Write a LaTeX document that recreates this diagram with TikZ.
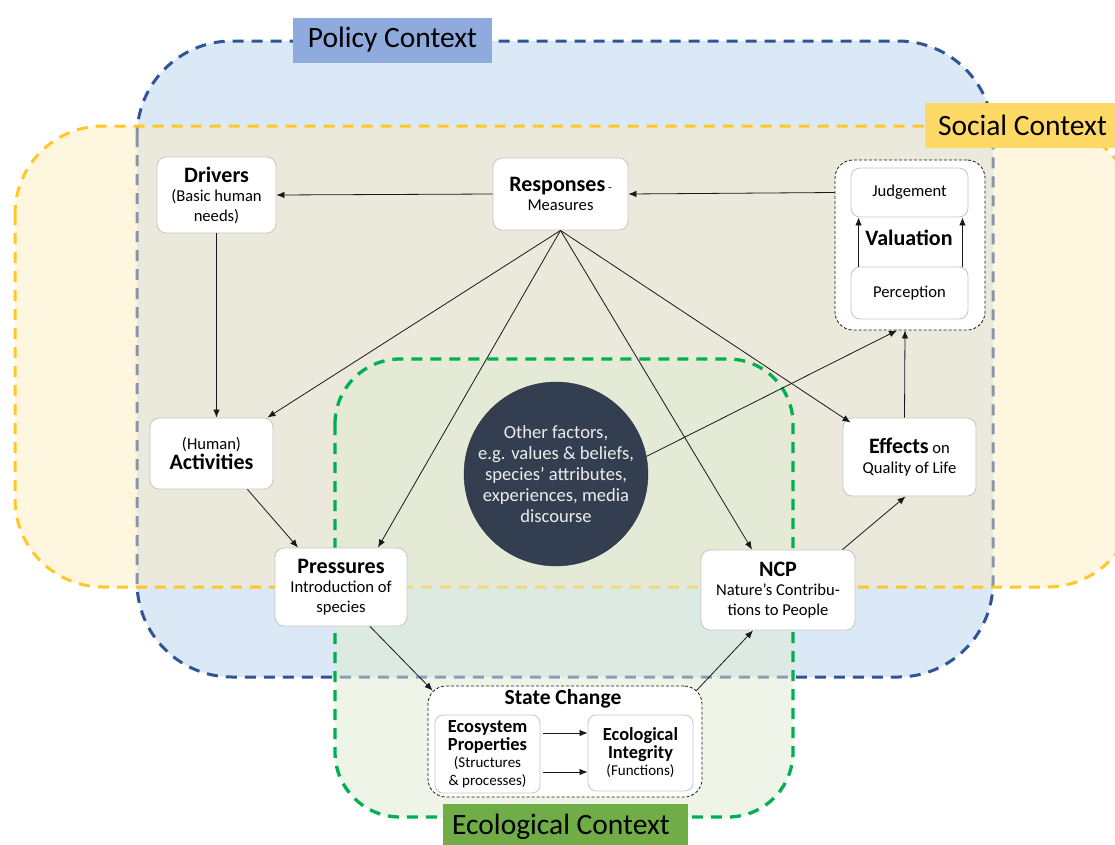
\documentclass[tikz,border=0pt]{standalone}
\usepackage{fontspec}
\setmainfont{Carlito}
\usetikzlibrary{arrows.meta,calc}
\definecolor{bluefill}{RGB}{219,232,245}
\definecolor{bluebord}{RGB}{47,85,151}
\definecolor{yelfill}{RGB}{255,236,185}
\definecolor{yelbord}{RGB}{255,200,40}
\definecolor{greenfill}{RGB}{223,235,211}
\definecolor{greenbord}{RGB}{0,176,80}
\definecolor{policylab}{RGB}{143,170,220}
\definecolor{sociallab}{RGB}{255,217,102}
\definecolor{ecolab}{RGB}{112,173,71}
\definecolor{boxgray}{RGB}{200,200,200}
\definecolor{circdark}{RGB}{51,63,80}
\definecolor{circtext}{RGB}{236,236,236}
\definecolor{linecol}{RGB}{25,25,25}
\newcommand\ttlfont{\fontsize{22}{24}\selectfont\bfseries}
\newcommand\subfont{\fontsize{16.6}{19.5}\selectfont}
\newcommand\smlttl{\fontsize{18.4}{20.5}\selectfont\bfseries}
\newcommand\smlsub{\fontsize{15}{17.5}\selectfont}
\tikzset{
  ctxbox/.style={line width=3pt, dash pattern=on 11pt off 8pt},
  lab/.style={inner sep=0pt, font=\fontsize{29.5}{31}\selectfont, text=black},
  wbox/.style={draw=boxgray, fill=white, rounded corners=9pt, line width=0.9pt, align=center, inner sep=1pt, font=\subfont},
  grp/.style={draw=linecol, fill=white, rounded corners=18pt, line width=0.8pt, dash pattern=on 3pt off 2pt},
  arr/.style={draw=linecol, line width=0.8pt, -{Latex[length=8pt,width=6.5pt]}},
}
\begin{document}
\begin{tikzpicture}[x=1pt,y=-1pt]
\clip (0,0) rectangle (1115,844);
\fill[white] (0,0) rectangle (1115,844);
% context areas
\draw[ctxbox, draw=bluebord, fill=bluefill, rounded corners=95pt] (137,41) rectangle (993,677);
\fill[yelfill, fill opacity=0.43, rounded corners=88pt] (15,126) rectangle (1135,587);
\draw[ctxbox, draw=yelbord, rounded corners=88pt] (15,126) rectangle (1135,587);
\fill[greenfill, fill opacity=0.5, rounded corners=65pt] (335,359) rectangle (793,817);
\draw[ctxbox, draw=greenbord, line width=3.3pt, rounded corners=65pt] (335,359) rectangle (793,817);
% context labels
\node[lab, fill=policylab, minimum width=199pt, minimum height=45pt] (policy) at (392.5,40) {Policy Context};
\node[lab, fill=sociallab, minimum width=195pt, minimum height=45pt] (social) at (1022.5,125.5) {Social Context};
\fill[ecolab] (443,804) rectangle (688,850);
\node[lab, anchor=base] (ecol) at (561,834) {Ecological Context};
% nodes
\node[wbox, minimum width=119pt, minimum height=76pt] (drv) at (216.5,195) {{\ttlfont Drivers}\\(Basic human\\needs)};
\node[wbox, minimum width=135pt, minimum height=72pt] (resp) at (560.5,194) {{\ttlfont Responses}\,{\fontsize{12}{14}\selectfont -}\\Measures};
\node[grp, minimum width=150pt, minimum height=170pt] (val) at (910,245) {};
\node[wbox, minimum width=117pt, minimum height=49pt] (judg) at (909.5,192.5) {Judgement};
\node[wbox, minimum width=117pt, minimum height=52pt] (perc) at (909.5,293) {Perception};
\node[font=\ttlfont, inner sep=1pt] (valt) at (909,238) {Valuation};
\node[wbox, minimum width=123pt, minimum height=71pt] (act) at (211.5,453.5) {(Human)\\{\ttlfont Activities}};
\node[wbox, minimum width=132pt, minimum height=78pt] (pres) at (341,587) {{\ttlfont Pressures}\\Introduction of\\species};
\node[circle, draw=circdark!80!black, fill=circdark, minimum size=164pt, inner sep=0pt, align=center, text=circtext, font=\fontsize{18.6}{21.2}\selectfont] (oth) at (556,474) {Other factors,\\e.g. values \& beliefs,\\species’ attributes,\\experiences, media\\discourse};
\node[wbox, minimum width=133pt, minimum height=78pt] (eff) at (909.5,457) {{\ttlfont Effects} on\\Quality of Life};
\node[wbox, minimum width=154pt, minimum height=80pt] (ncp) at (778,590) {{\ttlfont NCP}\\Nature’s Contribu-\\tions to People};
\node[grp, minimum width=274pt, minimum height=111pt] (sc) at (565,741.5) {};
\node[font=\fontsize{21.5}{23}\selectfont\bfseries, inner sep=1pt] (sct) at (563,699) {State Change};
\node[wbox, minimum width=105pt, minimum height=78pt, font=\smlsub, rounded corners=8pt] (eco) at (487.5,754) {{\smlttl Ecosystem}\\{\smlttl Properties}\\(Structures\\\& processes)};
\node[wbox, minimum width=105pt, minimum height=76pt, font=\smlsub, rounded corners=8pt] (integ) at (640.5,753) {{\smlttl Ecological}\\{\smlttl Integrity}\\(Functions)};
% connectors
\draw[arr] (resp.west) -- (drv.east);
\draw[arr] (val.west |- judg.west) -- (resp.east);
\draw[arr] (drv.south) -- (drv.south |- act.north);
\draw[arr] (resp.south) -- ([xshift=-6pt]act.north east);
\draw[arr] (resp.south) -- ([xshift=37pt]pres.north);
\draw[arr] (resp.south) -- ([xshift=-26pt]ncp.north);
\draw[arr] (resp.south) -- ([shift={(8,5)}]eff.north west);
\draw[arr] ([xshift=36pt]act.south) -- ([xshift=-43pt]pres.north);
\draw[arr] ([xshift=29pt]pres.south) -- ([shift={(5,5)}]sc.north west);
\draw[arr] ([shift={(-6,5)}]sc.north east) -- ([xshift=-25pt]ncp.south);
\draw[arr] ([xshift=-13pt]ncp.north east) -- ([xshift=-4pt]eff.south);
\draw[arr] ([xshift=-5pt]eff.north) -- ([xshift=-5pt]val.south);
\draw[arr] (oth.11) -- ([xshift=-13pt]val.south);
\draw[arr] ([xshift=8pt]perc.north west) -- ([xshift=8pt]judg.south west);
\draw[arr] ([xshift=-6pt]perc.north east) -- ([xshift=-6pt]judg.south east);
\draw[arr] ([shift={(3,-21)}]eco.east) -- ([shift={(0,-20)}]integ.west);
\draw[arr] ([shift={(3,18)}]eco.east) -- ([shift={(0,19)}]integ.west);
\end{tikzpicture}
\end{document}
